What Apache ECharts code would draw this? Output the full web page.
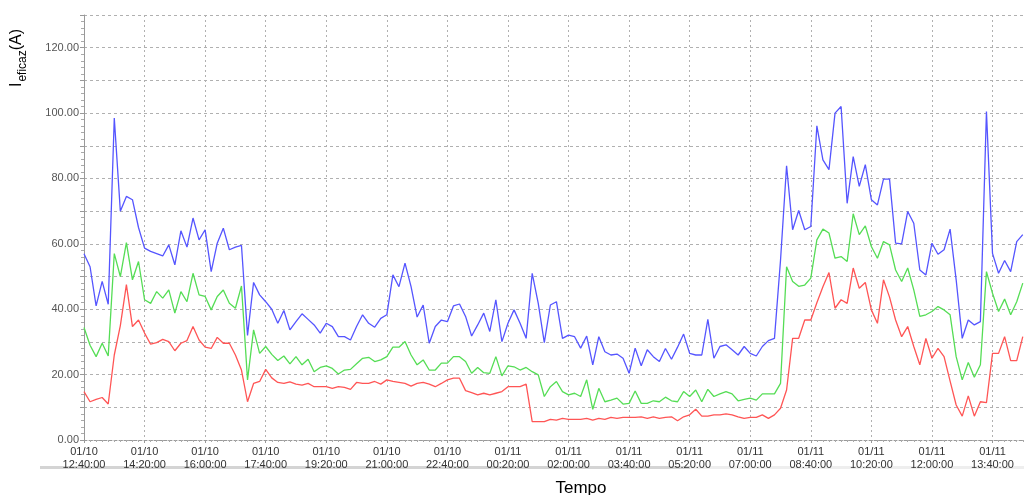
<!DOCTYPE html>
<html>
<head>
<meta charset="utf-8">
<script src="https://cdn.jsdelivr.net/npm/echarts@6/dist/echarts.min.js"></script>
<style>
html,body{margin:0;padding:0;background:#fff;}
#chart{width:1024px;height:495px;}
</style>
</head>
<body>
<div id="chart"></div>
<script>
// x step: one sample every 10 minutes, starting 01/10 12:40:00
const stepMinutes = 10;
const xTickLabels = [
  '01/10\n12:40:00','01/10\n14:20:00','01/10\n16:00:00','01/10\n17:40:00',
  '01/10\n19:20:00','01/10\n21:00:00','01/10\n22:40:00','01/11\n00:20:00',
  '01/11\n02:00:00','01/11\n03:40:00','01/11\n05:20:00','01/11\n07:00:00',
  '01/11\n08:40:00','01/11\n10:20:00','01/11\n12:00:00','01/11\n13:40:00'
];
const blueValues = [
  57,53,41,48.5,41.5,98.5,70,74.5,73.5,65,
  58.7,57.7,57,56.3,59.7,53.6,64,59,67.9,61.2,
  64.3,51.5,60.2,64.8,58.2,59,59.5,32,48.2,44.4,
  42.3,40,35.7,39.6,33.7,36.2,38.6,36.9,35.2,32.7,
  35.7,34.7,31.6,31.6,30.6,34.7,38.3,35.7,34.5,37.2,
  38.3,50.5,46.9,54.1,46.9,37.6,41.3,29.6,34.7,36.7,
  36.2,41,41.6,37.8,31.8,35.2,38.8,33.2,42.9,30.1,
  35.7,39.8,35.7,31.1,51,41.8,29.8,41.3,42.3,31.1,
  32.1,31.6,28.1,31.8,23,31.6,27,26,26.3,25,
  20.4,28.1,22.7,27.6,25.5,24,28,24.7,28.4,32.4,
  26.5,26,26,36.9,25,28.6,29.1,27.6,26,28.6,
  26.5,25.7,28.6,30.4,31.1,55,83.9,64.3,70.2,64.3,
  65.3,96.1,85.7,82.7,100,102,72.4,86.7,77.6,84.2,
  73.5,71.9,79.8,79.8,60.2,60,69.9,66.3,52,50.5,
  60.2,56.8,58.2,64.5,49,31.1,36.7,35.2,36.2,100.5,
  57.1,51,54.9,51.5,60.7,62.8
];
const greenValues = [
  34.4,29,25.5,29.6,25.7,57,50,60.4,49,54.6,
  42.9,41.8,45.4,43.4,45.9,38.8,45.4,42.3,51,44.4,
  43.9,39.8,43.9,45.9,41.8,40.3,47.1,18.4,33.7,26.5,
  28.6,26.2,24.3,25.7,23.3,25.5,23,24.7,20.9,22.2,
  22.7,21.9,20.2,21.4,21.6,23.3,25,25.3,24,24.5,
  25.5,28.4,28.4,30.1,26,23,24.5,21.4,21.4,23.5,
  23.5,25.5,25.5,24,20.4,22.2,20.6,20.4,25.5,19.6,
  22.7,22.4,21.4,22.2,20.9,19.9,13.3,16.3,17.9,14.8,
  13.8,14.3,13.3,18.4,9.4,15.8,11.7,12.2,12.8,11,
  11.2,15,11.2,11.2,12,11.7,13.1,12,11.7,14.8,
  13.3,15.3,11.7,15.5,13.3,14.1,14.8,14.1,12,12.4,
  12.8,12.2,14.1,14.1,14.1,17.3,53,48.5,47,47.4,
  49.5,61.2,64.5,63.3,55.6,56.1,54.6,69.2,62.8,65.5,
  59.2,55.6,60.7,59.7,52,48.5,52.6,45.9,37.8,38.3,
  39.3,40.8,39.8,38.3,25.5,18.4,23.7,19.2,23,51.5,
  44.9,39.3,43.1,38.3,42.3,48
];
const redValues = [
  14.8,11.7,12.4,13,11,26,35,47.5,34.7,36.7,
  32.7,29.3,29.8,30.8,30.1,27.3,29.6,30.4,34.7,30.6,
  28.4,28,31.4,29.6,29.6,26,21.4,11.7,17.3,17.9,
  21.6,19,17.6,17.3,17.8,17.1,16.8,17.3,16.3,16.3,
  16.3,15.8,16.3,16.1,15.5,17.6,17.3,17.3,17.9,17.1,
  18.4,17.9,17.6,17.3,16.5,17.3,17.6,17.1,16.3,17.3,
  18.4,18.9,18.9,15.1,14.5,13.8,14.3,13.8,14.3,14.8,
  16.3,16.3,16.3,17.1,5.6,5.6,5.6,6.3,6.1,6.6,
  6.3,6.3,6.3,6.6,6.1,6.6,6.3,6.9,6.6,6.9,
  6.9,6.9,7.1,6.6,7.1,6.6,6.9,7.1,5.9,7.1,
  7.7,9.4,7.3,7.3,7.7,7.7,8,7.7,7.1,6.6,
  6.9,6.9,7.7,6.6,7.7,9.7,15.3,31.1,31.1,36.7,
  36.7,42,46.9,51.2,40.3,42.9,41.8,52.6,46.4,48.2,
  39.8,35.7,49,43.7,36.7,31.6,34.7,28.6,23,31.1,
  25,28,25.5,18,10.7,7.3,13.5,7.3,11.7,11.4,
  26.5,26.5,31.6,24.3,24.3,31.6
];

function toPairs(arr){ return arr.map((v,i)=>[i*stepMinutes, v]); }

const chart = echarts.init(document.getElementById('chart'), null, {renderer:'canvas'});
const FONT = '"Liberation Sans", Arial, sans-serif';
chart.setOption({
  animation: false,
  backgroundColor: '#fff',
  grid: {left: 84, right: 0, top: 15, bottom: 55, containLabel: false},
  xAxis: {
    type: 'value', min: 0, max: 1552, interval: 100,
    axisLine: {show: true, lineStyle: {color: '#999', type: [3,2], width: 1}},
    axisTick: {show: true, length: 3, lineStyle: {color: '#999'}},
    minorTick: {show: true, splitNumber: 10, length: 2, lineStyle: {color: '#aaa'}},
    splitLine: {show: true, lineStyle: {color: '#b0b0b0', type: [2,3], width: 1}},
    axisLabel: {
      color: '#333', fontSize: 11, fontFamily: FONT, lineHeight: 13, margin: 5,
      showMaxLabel: false,
      formatter: function(v){ const k = Math.round(v/100); return (v % 100 === 0 && xTickLabels[k]) ? xTickLabels[k] : ''; }
    }
  },
  yAxis: {
    type: 'value', min: 0, max: 130, interval: 10,
    axisLine: {show: true, lineStyle: {color: '#999', width: 1}},
    axisTick: {show: true, length: 4, lineStyle: {color: '#999'}},
    minorTick: {show: true, splitNumber: 5, length: 3, lineStyle: {color: '#aaa'}},
    splitLine: {show: true, lineStyle: {color: '#b0b0b0', type: [3,3], width: 1}},
    axisLabel: {
      color: '#555', fontSize: 11, fontFamily: FONT, margin: 5,
      formatter: function(v){ return (v % 20 === 0) ? v.toFixed(2) : ''; }
    }
  },
  series: [
    {type:'line', name:'blue', data: toPairs(blueValues), showSymbol:false, symbol:'none',
     lineStyle:{color:'#5555ff', width:1.3}, itemStyle:{color:'#5555ff'}},
    {type:'line', name:'green', data: toPairs(greenValues), showSymbol:false, symbol:'none',
     lineStyle:{color:'#55dd55', width:1.3}, itemStyle:{color:'#55dd55'}},
    {type:'line', name:'red', data: toPairs(redValues), showSymbol:false, symbol:'none',
     lineStyle:{color:'#ff5555', width:1.3}, itemStyle:{color:'#ff5555'}}
  ],
  graphic: [
    {type:'rect', left: 40, top: 466, shape:{width: 650, height: 3}, style:{fill:'#d4d4d4'}, silent:true},
    {type:'rect', left: 690, top: 466, shape:{width: 334, height: 3}, style:{fill:'#eeeeee'}, silent:true},
    {type:'text', x: 19, y: 58, rotation: Math.PI/2, silent:true,
     style:{
       text: '{a|I}{b|eficaz}{a|(A)}',
       align:'center', verticalAlign:'middle', fill:'#000', fontFamily: FONT,
       rich:{
         a:{fontSize:16, fontFamily: FONT, fill:'#000', lineHeight:20, verticalAlign:'top', padding:[0,0,0,0]},
         b:{fontSize:12, fontFamily: FONT, fill:'#000', lineHeight:20, verticalAlign:'bottom', padding:[6,0,0,1]}
       }
     }},
    {type:'text', x: 581, y: 480, silent:true,
     style:{text:'Tempo', align:'center', verticalAlign:'top', fontSize:17, fontFamily: FONT, fill:'#000'}}
  ]
});
</script>
</body>
</html>
